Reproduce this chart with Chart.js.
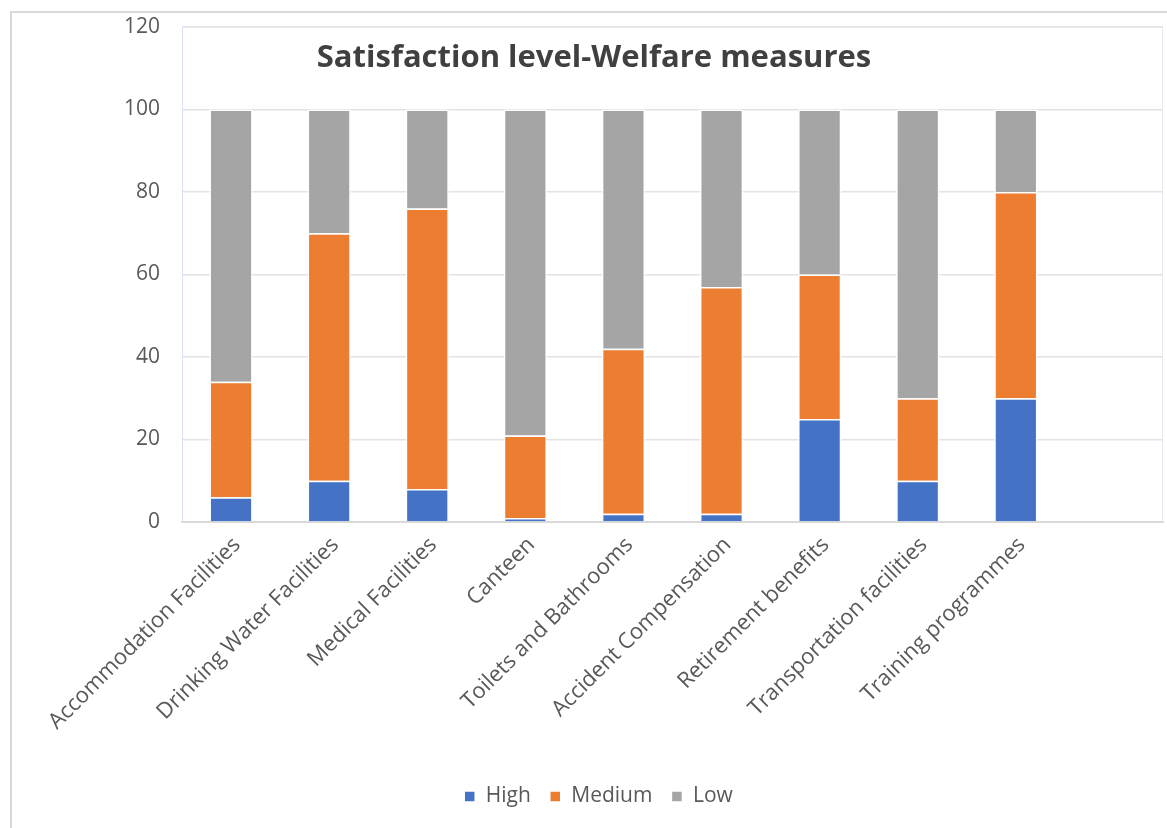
<!DOCTYPE html>
<html>
<head>
<meta charset="utf-8">
<script src="https://cdn.jsdelivr.net/npm/chart.js@4.4.1/dist/chart.umd.min.js"></script>
<style>
  html, body { margin: 0; padding: 0; background: #ffffff; width: 1167px; height: 828px; overflow: hidden; }
  #frame { position: absolute; left: 10px; top: 11px; width: 1300px; height: 1000px; border: 2px solid #d9d9d9; box-sizing: border-box; }
  #wrap { position: absolute; left: 0; top: 0; width: 1167px; height: 828px; }
</style>
</head>
<body>
<div id="frame"></div>
<div id="wrap"><canvas id="c" width="1167" height="828"></canvas></div>
<script>
const categories = [
  "Accommodation Facilities",
  "Drinking Water Facilities",
  "Medical Facilities",
  "Canteen",
  "Toilets and Bathrooms",
  "Accident Compensation",
  "Retirement benefits",
  "Transportation facilities",
  "Training programmes",
  ""
];
const high   = [6, 10, 8, 1, 2, 2, 25, 10, 30, null];
const medium = [28, 60, 68, 20, 40, 55, 35, 20, 50, null];
const low    = [66, 30, 24, 79, 58, 43, 40, 70, 20, null];
const yTicks = [0, 20, 40, 60, 80, 100, 120];
const titleText = "Satisfaction level-Welfare measures";

const FONT = "'Open Sans', 'Noto Sans', sans-serif";

const overlay = {
  id: 'overlay',
  beforeDraw(chart) {
    const { ctx, chartArea: a } = chart;
    ctx.save();
    ctx.strokeStyle = '#e4eaf4';
    ctx.lineWidth = 1;
    ctx.strokeRect(a.left + 0.5, a.top + 0.5, a.right - a.left - 1, a.bottom - a.top);
    ctx.restore();
  },
  afterDraw(chart) {
    const { ctx } = chart;
    ctx.save();
    ctx.font = "bold 31px " + FONT;
    ctx.fillStyle = '#404040';
    ctx.textAlign = 'center';
    ctx.textBaseline = 'alphabetic';
    ctx.fillText(titleText, 594, 67);
    ctx.restore();
  }
};

new Chart(document.getElementById('c'), {
  type: 'bar',
  data: {
    labels: categories,
    datasets: [
      { label: 'High', data: high, backgroundColor: '#4472c4', borderColor: '#ffffff', borderWidth: 1.5 },
      { label: 'Medium', data: medium, backgroundColor: '#ed7d31', borderColor: '#ffffff', borderWidth: 1.5 },
      { label: 'Low', data: low, backgroundColor: '#a5a5a5', borderColor: '#ffffff', borderWidth: 1.5 }
    ]
  },
  options: {
    responsive: false,
    animation: false,
    layout: { padding: { left: 34, top: 27, right: 4, bottom: 11 } },
    datasets: { bar: { barPercentage: 0.44, categoryPercentage: 1.0 } },
    plugins: {
      title: { display: false },
      tooltip: { enabled: false },
      legend: {
        position: 'bottom',
        labels: {
          boxWidth: 11, boxHeight: 11, padding: 19,
          color: '#595959',
          font: { family: FONT, size: 21 }
        }
      }
    },
    scales: {
      x: {
        stacked: true,
        grid: { display: false, drawTicks: false },
        border: { display: true, color: '#d9d9d9', width: 2 },
        ticks: {
          color: '#595959', font: { family: FONT, size: 22 },
          minRotation: 45, maxRotation: 45, autoSkip: false, padding: 10, labelOffset: 6
        },
        afterFit(scale) { scale.height = 245; }
      },
      y: {
        stacked: true,
        min: 0, max: 120,
        afterBuildTicks(scale) { scale.ticks = yTicks.map(v => ({ value: v })); },
        grid: { color: '#e3e3e3', lineWidth: 1.5, drawTicks: false },
        border: { display: true, color: '#dae3f3', width: 1 },
        ticks: { color: '#595959', font: { family: FONT, size: 21 }, padding: 22 },
        afterFit(scale) { scale.width = 148; scale.paddingTop = 0; scale.paddingBottom = 0; }
      }
    }
  },
  plugins: [overlay]
});
</script>
</body>
</html>
